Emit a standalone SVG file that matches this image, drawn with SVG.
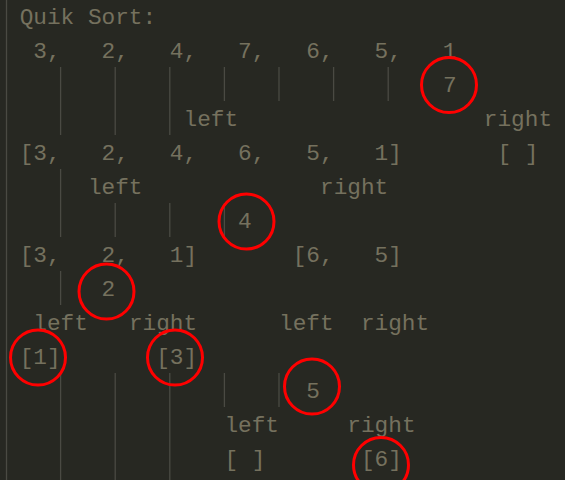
<svg xmlns="http://www.w3.org/2000/svg" width="565" height="480" viewBox="0 0 565 480">
<style>
.t{font-family:"Liberation Mono","DejaVu Sans Mono",monospace;font-size:22.75px;fill:#75715e;white-space:pre}
.g{stroke:#4a4a43;stroke-width:1.3}
.c{fill:none;stroke:#ff0000;stroke-width:3}
</style>
<rect width="565" height="480" fill="#272822"/>
<g id="guides">
<line class="g" x1="6.5" y1="0" x2="6.5" y2="480"/>
<line class="g" x1="60.6" y1="67" x2="60.6" y2="135"/>
<line class="g" x1="60.6" y1="169" x2="60.6" y2="237"/>
<line class="g" x1="60.6" y1="271" x2="60.6" y2="305"/>
<line class="g" x1="60.6" y1="373" x2="60.6" y2="480"/>
<line class="g" x1="115.2" y1="67" x2="115.2" y2="135"/>
<line class="g" x1="115.2" y1="203" x2="115.2" y2="237"/>
<line class="g" x1="115.2" y1="373" x2="115.2" y2="480"/>
<line class="g" x1="169.8" y1="67" x2="169.8" y2="135"/>
<line class="g" x1="169.8" y1="203" x2="169.8" y2="237"/>
<line class="g" x1="169.8" y1="373" x2="169.8" y2="480"/>
<line class="g" x1="224.4" y1="67" x2="224.4" y2="101"/>
<line class="g" x1="224.4" y1="203" x2="224.4" y2="237"/>
<line class="g" x1="224.4" y1="373" x2="224.4" y2="407"/>
<line class="g" x1="279" y1="67" x2="279" y2="101"/>
<line class="g" x1="279" y1="373" x2="279" y2="407"/>
<line class="g" x1="333.6" y1="67" x2="333.6" y2="101"/>
<line class="g" x1="388.2" y1="67" x2="388.2" y2="101"/>
</g>
<g id="text">
<text class="t" x="19.65" y="24">Quik Sort:</text>
<text class="t" x="33.3" y="58">3,   2,   4,   7,   6,   5,   1</text>
<text class="t" x="443" y="92">7</text>
<text class="t" x="183.5" y="126">left</text>
<text class="t" x="483.8" y="126">right</text>
<text class="t" x="19.65" y="160">[3,   2,   4,   6,   5,   1]</text>
<text class="t" x="497.4" y="160">[ ]</text>
<text class="t" x="87.9" y="194">left</text>
<text class="t" x="320" y="194">right</text>
<text class="t" x="238" y="228">4</text>
<text class="t" x="19.65" y="262">[3,   2,   1]</text>
<text class="t" x="292.7" y="262">[6,   5]</text>
<text class="t" x="101.5" y="296">2</text>
<text class="t" x="33.3" y="330">left</text>
<text class="t" x="128.9" y="330">right</text>
<text class="t" x="279" y="330">left</text>
<text class="t" x="360.9" y="330">right</text>
<text class="t" x="19.65" y="364">[1]</text>
<text class="t" x="156.2" y="364">[3]</text>
<text class="t" x="306.3" y="398">5</text>
<text class="t" x="224.4" y="432">left</text>
<text class="t" x="347.3" y="432">right</text>
<text class="t" x="224.4" y="466">[ ]</text>
<text class="t" x="360.9" y="466">[6]</text>
</g>
<g id="circles">
<g id="c7"><circle class="c" cx="449" cy="85" r="27.5"/></g>
<g id="c4"><circle class="c" cx="246.5" cy="221.5" r="27.5"/></g>
<g id="c2"><circle class="c" cx="106.5" cy="291.5" r="27.5"/></g>
<g id="c1"><circle class="c" cx="38" cy="357.5" r="27.5"/></g>
<g id="c3"><circle class="c" cx="175" cy="357.5" r="27.5"/></g>
<g id="c5"><circle class="c" cx="312" cy="386.5" r="27.5"/></g>
<g id="c6"><circle class="c" cx="381" cy="465" r="27.5"/></g>
</g>
</svg>
